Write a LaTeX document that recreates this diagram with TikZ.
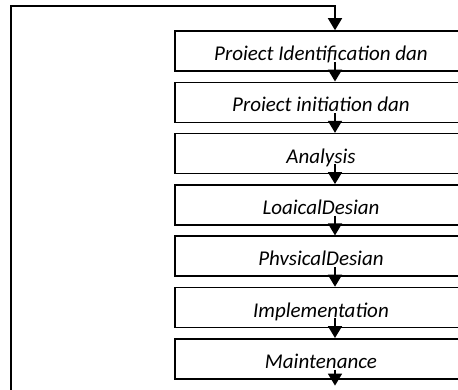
\documentclass[tikz,border=0pt]{standalone}
\usepackage{fontspec}
\setmainfont{Carlito}
\usetikzlibrary{positioning,arrows.meta}
\tikzset{
  phase/.style={draw, line width=1.6pt, minimum width=292pt, inner sep=0pt,
    text height=29.5pt, text depth=10.5pt, font=\fontsize{21}{25}\selectfont\itshape},
  flow/.style={line width=1.6pt, -{Triangle[length=12pt,width=14pt]}}
}
\begin{document}
\begin{tikzpicture}[x=1pt,y=1pt,node distance=9.7pt]
  \useasboundingbox (0,0) rectangle (458,-389);
  \clip (0,0) rectangle (458,-389);
  \node[phase] (ident) at (321,-51) {Proiect Identification dan};
  \node[phase, below=of ident] (init) {Proiect initiation dan};
  \node[phase, below=of init] (analysis) {Analysis};
  \node[phase, below=of analysis] (logical) {LoaicalDesian};
  \node[phase, below=of logical] (physical) {PhvsicalDesian};
  \node[phase, below=of physical] (impl) {Implementation};
  \node[phase, below=of impl] (maint) {Maintenance};
  \coordinate (corner) at (11,-6);
  \coordinate (leftend) at (11,-420);
  \coordinate (loopend) at ([xshift=14pt]maint.south |- leftend);
  \begin{scope}[flow]
    \draw (leftend) -- (corner) -| ([xshift=14pt]ident.north);
    \draw ([xshift=14pt,yshift=10pt]ident.south) -- ([xshift=14pt]init.north);
    \draw ([xshift=14pt,yshift=10pt]init.south) -- ([xshift=14pt]analysis.north);
    \draw ([xshift=14pt,yshift=10pt]analysis.south) -- ([xshift=14pt]logical.north);
    \draw ([xshift=14pt,yshift=10pt]logical.south) -- ([xshift=14pt]physical.north);
    \draw ([xshift=14pt,yshift=10pt]physical.south) -- ([xshift=14pt]impl.north);
    \draw ([xshift=14pt,yshift=10pt]impl.south) -- ([xshift=14pt]maint.north);
    \draw ([xshift=14pt,yshift=10pt]maint.south) -- ([yshift=-6pt]maint.south -| loopend);
  \end{scope}
\end{tikzpicture}
\end{document}
